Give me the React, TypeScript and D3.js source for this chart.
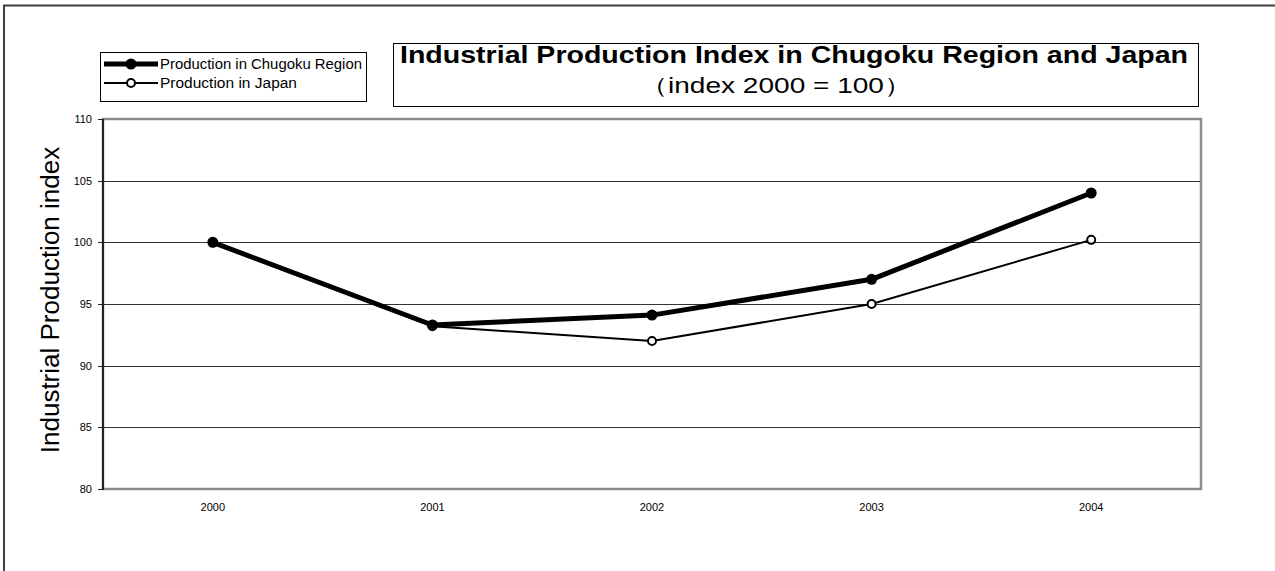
import React from "react";
import * as d3 from "d3";

const years = ["2000", "2001", "2002", "2003", "2004"];
const chugoku = [100, 93.3, 94.1, 97.0, 104.0];
const japan = [100, 93.2, 92.0, 95.0, 100.2];
const yTicks = [80, 85, 90, 95, 100, 105, 110];
const seriesNames = ["Production in Chugoku Region", "Production in Japan"];
const titleText = "Industrial Production Index in Chugoku Region and Japan";
const subtitleText = "（index 2000 = 100）";
const yAxisTitle = "Industrial Production index";

const W = 1275;
const H = 571;
const plot = { left: 103, right: 1201, top: 119, bottom: 489 };
const font = "'Liberation Sans', Arial, Helvetica, sans-serif";

export default function App() {
  const x = d3.scaleBand<string>().domain(years).range([plot.left, plot.right]).padding(0);
  const y = d3.scaleLinear().domain([80, 110]).range([plot.bottom, plot.top]);
  const cx = (c: string) => (x(c) as number) + x.bandwidth() / 2;
  const line = d3
    .line<number>()
    .x((_, i) => cx(years[i]))
    .y((d) => y(d));

  return (
    <svg
      width={W}
      height={H}
      style={{ position: "absolute", left: 0, top: 0, background: "#fff" }}
      fontFamily={font}
    >
      <rect x={0} y={0} width={W} height={H} fill="#fff" />
      {/* outer frame */}
      <rect x={4} y={5.5} width={1400} height={700} fill="none" stroke="#404040" strokeWidth={2} />

      {/* plot border */}
      <rect
        x={plot.left}
        y={plot.top}
        width={plot.right - plot.left}
        height={plot.bottom - plot.top}
        fill="#fff"
        stroke="#8c8c8c"
        strokeWidth={2.5}
      />
      {/* gridlines */}
      {yTicks
        .filter((t) => t !== 80 && t !== 110)
        .map((t) => (
          <line
            key={t}
            x1={plot.left}
            x2={plot.right - 1}
            y1={Math.round(y(t)) + 0.5}
            y2={Math.round(y(t)) + 0.5}
            stroke="#333"
            strokeWidth={1}
          />
        ))}
      {/* y axis line and ticks */}
      <line x1={plot.left} x2={plot.left} y1={plot.top} y2={plot.bottom + 1} stroke="#222" strokeWidth={2} />
      {yTicks.map((t) => (
        <g key={"t" + t}>
          <line x1={plot.left - 5} x2={plot.left} y1={Math.round(y(t)) + 0.5} y2={Math.round(y(t)) + 0.5} stroke="#222" strokeWidth={1} />
          <text x={92} y={y(t)} dy="0.35em" textAnchor="end" fontSize={11} fill="#000">
            {t}
          </text>
        </g>
      ))}
      {/* x labels */}
      {years.map((c) => (
        <text key={c} x={cx(c)} y={511} textAnchor="middle" fontSize={11} fill="#000">
          {c}
        </text>
      ))}

      {/* y axis title */}
      <text
        transform={`translate(59,${(plot.top + plot.bottom) / 2 - 4}) rotate(-90)`}
        textAnchor="middle"
        fontSize={26}
        fill="#000"
      >
        {yAxisTitle}
      </text>

      {/* Japan series */}
      <path d={line(japan) || ""} fill="none" stroke="#000" strokeWidth={2} />
      {japan.map((v, i) => (
        <circle key={"j" + i} cx={cx(years[i])} cy={y(v)} r={4} fill="#fff" stroke="#000" strokeWidth={2} />
      ))}
      {/* Chugoku series */}
      <path d={line(chugoku) || ""} fill="none" stroke="#000" strokeWidth={5} strokeLinejoin="round" />
      {chugoku.map((v, i) => (
        <circle key={"c" + i} cx={cx(years[i])} cy={y(v)} r={5.5} fill="#000" />
      ))}

      {/* legend */}
      <rect x={100.5} y={52.5} width={266} height={49} fill="#fff" stroke="#000" strokeWidth={1} />
      <line x1={104} x2={158} y1={64} y2={64} stroke="#000" strokeWidth={5} />
      <circle cx={131} cy={64} r={5.5} fill="#000" />
      <text x={160} y={64} dy="0.35em" fontSize={14} textLength={202} lengthAdjust="spacingAndGlyphs">
        {seriesNames[0]}
      </text>
      <line x1={104} x2={158} y1={83} y2={83} stroke="#000" strokeWidth={2} />
      <circle cx={131} cy={83} r={4} fill="#fff" stroke="#000" strokeWidth={2} />
      <text x={160} y={83} dy="0.35em" fontSize={14} textLength={137} lengthAdjust="spacingAndGlyphs">
        {seriesNames[1]}
      </text>

      {/* title box */}
      <rect x={393.5} y={43.5} width={805} height={63} fill="#fff" stroke="#000" strokeWidth={1} />
      <text x={400} y={63} fontSize={23} fontWeight="bold" textLength={788} lengthAdjust="spacingAndGlyphs">
        {titleText}
      </text>
      <text x={776} y={93} textAnchor="middle" fontSize={22} textLength={272} lengthAdjust="spacingAndGlyphs">
        {subtitleText}
      </text>
    </svg>
  );
}
